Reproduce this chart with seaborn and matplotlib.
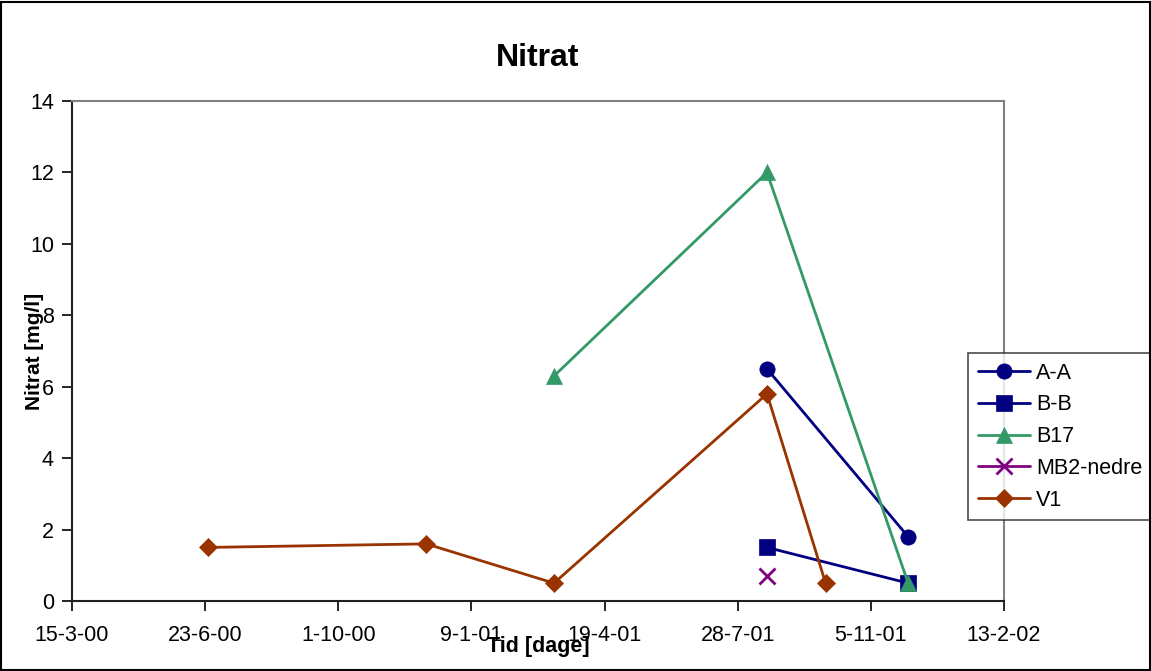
import matplotlib
matplotlib.use("Agg")
import matplotlib.pyplot as plt
import matplotlib.dates as mdates
from matplotlib.lines import Line2D
from matplotlib.patches import Rectangle
import seaborn as sns
import pandas as pd
import numpy as np

# Sampling dates and nitrate values per station
aa_dates = ["2001-08-19", "2001-12-03"]
aa_values = [6.5, 1.8]
bb_dates = ["2001-08-19", "2001-12-03"]
bb_values = [1.5, 0.5]
b17_dates = ["2001-03-12", "2001-08-19", "2001-12-03"]
b17_values = [6.3, 12.0, 0.5]
mb2_dates = ["2001-08-19"]
mb2_values = [0.7]
v1_dates = ["2000-06-25", "2000-12-06", "2001-03-12", "2001-08-19", "2001-10-02"]
v1_values = [1.5, 1.6, 0.5, 5.8, 0.5]

series_names = ["A-A", "B-B", "B17", "MB2-nedre", "V1"]
series_colors = ["#000080", "#000080", "#339966", "#800080", "#993300"]
series_markers = ["o", "s", "^", "x", "D"]
series_msizes = [11, 11, 11, 11, 9]

x_tick_labels = ["15-3-00", "23-6-00", "1-10-00", "9-1-01", "19-4-01", "28-7-01", "5-11-01", "13-2-02"]

frames = []
for name, d, v in zip(series_names,
                      [aa_dates, bb_dates, b17_dates, mb2_dates, v1_dates],
                      [aa_values, bb_values, b17_values, mb2_values, v1_values]):
    frames.append(pd.DataFrame({"Dato": pd.to_datetime(d), "Nitrat": v, "Station": name}))
df = pd.concat(frames, ignore_index=True)

sns.set_theme(style="white")
plt.rcParams["font.family"] = ["Liberation Sans", "DejaVu Sans"]

fig = plt.figure(figsize=(11.51, 6.71), dpi=100)
ax = fig.add_axes([72 / 1151, 70 / 671, 932 / 1151, 500 / 671])

palette = dict(zip(series_names, series_colors))
markers = dict(zip(series_names, series_markers))
for name, ms in zip(series_names, series_msizes):
    sub = df[df["Station"] == name]
    sns.lineplot(data=sub, x="Dato", y="Nitrat", color=palette[name],
                 marker=markers[name], markersize=ms, linewidth=2,
                 markeredgecolor=palette[name],
                 markeredgewidth=2 if markers[name] == "x" else 0.5,
                 ax=ax, legend=False, errorbar=None)

tick_dates = pd.to_datetime(x_tick_labels, format="%d-%m-%y")
ax.set_xlim(mdates.date2num(tick_dates[0]), mdates.date2num(tick_dates[-1]))
ax.set_xticks(mdates.date2num(tick_dates))
ax.set_xticklabels(x_tick_labels)
ax.set_ylim(0, 14)
ax.set_yticks(np.arange(0, 15, 2))

ax.tick_params(axis="both", direction="out", length=7, width=1.2, color="black",
               labelsize=15.5, labelcolor="black", bottom=True, left=True)
ax.tick_params(axis="x", pad=10)
ax.tick_params(axis="y", pad=6)

for side in ["top", "right"]:
    ax.spines[side].set_color("#808080")
    ax.spines[side].set_linewidth(1.5)
for side in ["left", "bottom"]:
    ax.spines[side].set_color("#202020")
    ax.spines[side].set_linewidth(1.5)

ax.set_xlabel("Tid [dage]", fontsize=15.5, fontweight="bold", labelpad=-7, color="black")
ax.set_ylabel("Nitrat [mg/l]", fontsize=15, fontweight="bold", labelpad=-10, color="black")
ax.set_title("Nitrat", fontsize=23, fontweight="bold", pad=25, color="black")

handles = [Line2D([0], [0], color=c, marker=m, markersize=ms, linewidth=2,
                  markeredgecolor=c, markeredgewidth=2 if m == "x" else 0.5)
           for c, m, ms in zip(series_colors, series_markers, series_msizes)]
leg = ax.legend(handles, series_names, loc="upper left", bbox_to_anchor=(0.9614, 0.496),
                frameon=True, fontsize=15.5, fancybox=False, handlelength=2.45,
                borderpad=0.45, labelspacing=0.5, handletextpad=0.25, borderaxespad=0)
leg.get_frame().set_edgecolor("#202020")
leg.get_frame().set_linewidth(1.2)
for t in leg.get_texts():
    t.set_color("black")

fig.patches.append(Rectangle((0.001, 0.001), 0.998, 0.996, transform=fig.transFigure,
                             fill=False, edgecolor="black", linewidth=1.5))

fig.savefig("out.png", dpi=100)
